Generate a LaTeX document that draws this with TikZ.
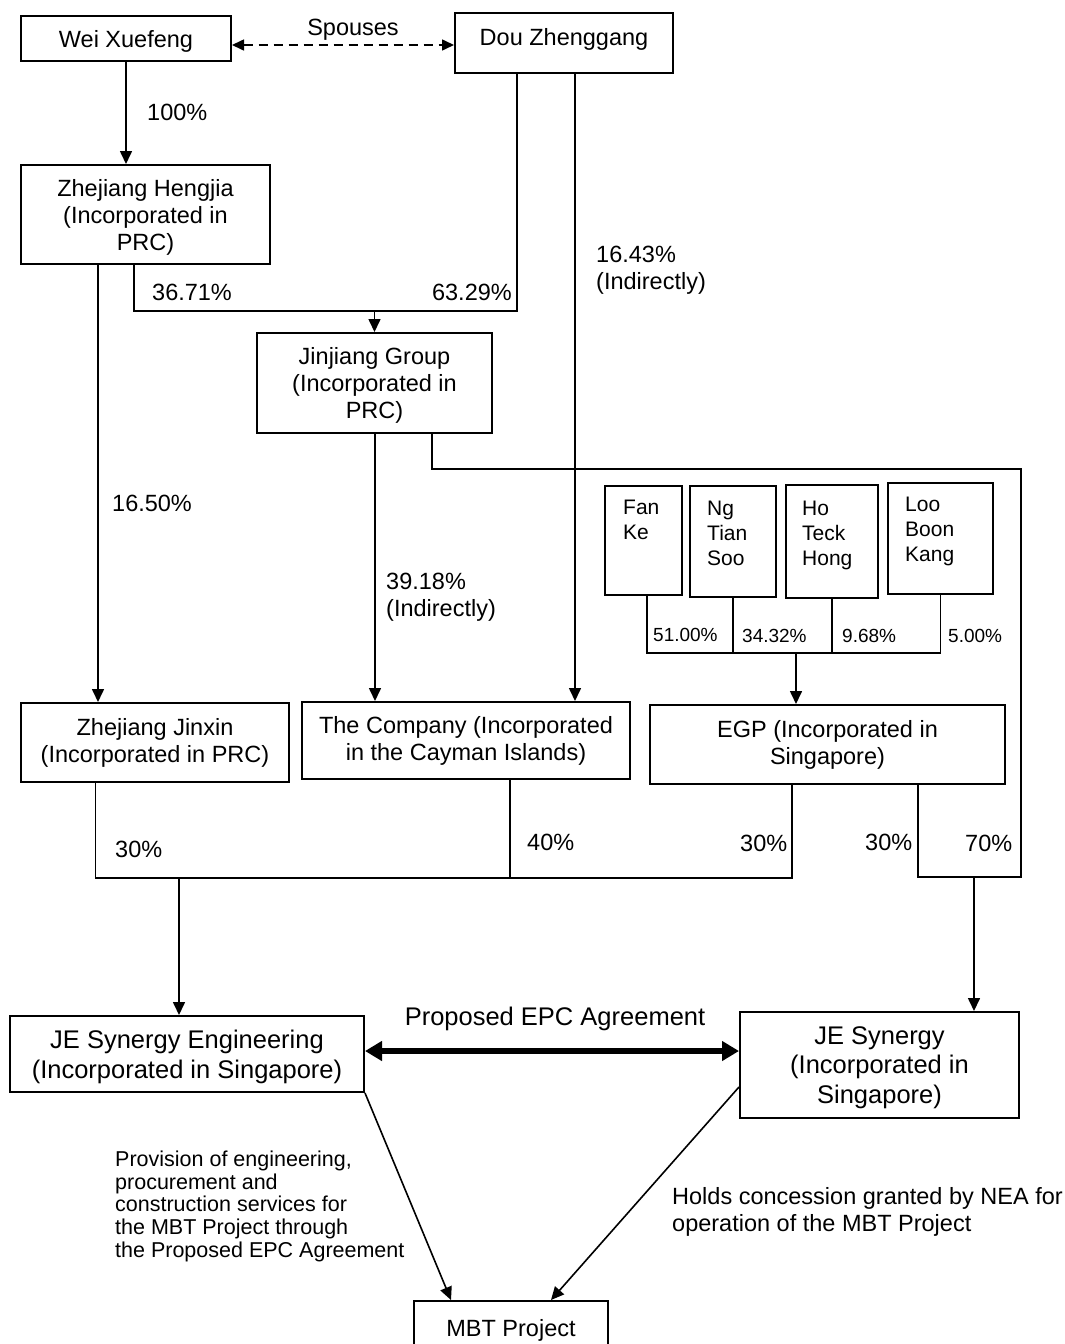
\documentclass[tikz,border=0pt]{standalone}
\usepackage{fontspec}
\setmainfont{Liberation Sans}
\usetikzlibrary{arrows.meta,calc}
\newcommand\fmain{\fontsize{23.5}{27}\selectfont}
\newcommand\fbig{\fontsize{25.5}{29.5}\selectfont}
\newcommand\fname{\fontsize{21}{24.8}\selectfont}
\newcommand\fpct{\fontsize{19}{22}\selectfont}
\newcommand\fnote{\fontsize{21.5}{22.6}\selectfont}
\begin{document}
\begin{tikzpicture}[x=1pt,y=-1pt,
  box/.style={draw, line width=2pt, align=center, inner sep=0pt, font=\fmain},
  bigbox/.style={box, font=\fbig},
  namebox/.style={draw, line width=2pt, inner sep=0pt},
  nametext/.style={align=left, inner sep=0pt, font=\fname, anchor=north west},
  lbl/.style={inner sep=0pt, font=\fmain},
  pct/.style={inner sep=0pt, font=\fpct, anchor=base west},
  conn/.style={line width=1.6pt},
  arr/.style={conn, -{Triangle[length=13pt,width=12pt]}},
  spouse/.style={line width=1.6pt, dash pattern=on 9pt off 6pt, {Triangle[length=12pt,width=11pt]}-{Triangle[length=12pt,width=11pt]}},
  epc/.style={line width=6pt, {Triangle[length=17pt,width=19pt]}-{Triangle[length=17pt,width=19pt]}}]
\useasboundingbox (0,0) rectangle (1065,1344);

% boxes
\node[box, minimum width=210pt, minimum height=45pt, text height=23pt] (wei) at (126,38.5) {Wei Xuefeng};
\node[box, minimum width=218pt, minimum height=60pt, text height=17pt, text depth=12pt] (dou) at (564,43) {Dou Zhenggang};
\node[box, minimum width=249pt, minimum height=99pt, text depth=0pt] (heng) at (145.5,214.5) {Zhejiang Hengjia\\(Incorporated in\\PRC)};
\node[box, minimum width=235pt, minimum height=100pt, text depth=0pt] (jinj) at (374.5,383) {Jinjiang Group\\(Incorporated in\\PRC)};
\node[box, minimum width=268pt, minimum height=79pt] (jinx) at (155,742.5) {Zhejiang Jinxin\\(Incorporated in PRC)};
\node[box, minimum width=328pt, minimum height=77pt] (comp) at (466,740.5) {The Company (Incorporated\\in the Cayman Islands)};
\node[box, minimum width=355pt, minimum height=79pt] (egp) at (827.5,744.5) {EGP (Incorporated in\\Singapore)};

\node[namebox, minimum width=77pt, minimum height=109pt] (fan) at (643.5,540.5) {};
\node[namebox, minimum width=86pt, minimum height=111pt] (ng) at (733,541.5) {};
\node[namebox, minimum width=92pt, minimum height=113pt] (ho) at (832,541.5) {};
\node[namebox, minimum width=105pt, minimum height=111pt] (loo) at (940.5,538.5) {};
\node[nametext] (fant) at (623,500) {Fan\\Ke};
\node[nametext] (ngt) at (707,501) {Ng\\Tian\\Soo};
\node[nametext] (hot) at (802,501) {Ho\\Teck\\Hong};
\node[nametext] (loot) at (905,497) {Loo\\Boon\\Kang};

\node[bigbox, minimum width=354pt, minimum height=76pt, text depth=0pt] (jese) at (187,1054) {JE Synergy Engineering\\(Incorporated in Singapore)};
\node[bigbox, minimum width=279pt, minimum height=106pt, text depth=0pt] (jes) at (879.5,1065) {JE Synergy\\(Incorporated in\\Singapore)};
\node[box, minimum width=194pt, minimum height=59pt] (mbt) at (511,1330.5) {MBT Project};

% helper levels
\coordinate (ysp) at (0,45);
\coordinate (yA) at (0,311);
\coordinate (yB) at (0,469);
\coordinate (yC) at (0,653);
\coordinate (yD) at (0,878);
\coordinate (yE) at (0,877);
\coordinate (yF) at (0,1051);
\coordinate (xR) at (1021,0);

% spouses
\draw[spouse] (wei.east |- ysp) -- (dou.west |- ysp);
% Wei -> Hengjia
\draw[arr] (wei.south) -- (wei.south |- heng.north);
% Hengjia -> Jinxin
\coordinate (h1) at ([xshift=78pt]heng.south west);
\draw[arr] (h1) -- (h1 |- jinx.north);
% Hengjia + Dou -> Jinjiang
\coordinate (h2) at ([xshift=114pt]heng.south west);
\coordinate (d1) at ([xshift=63pt]dou.south west);
\draw[conn] (h2) |- (d1 |- yA) -- (d1);
\draw[arr] (jinj.north |- yA) -- (jinj.north);
% Dou -> Company
\coordinate (d2) at ([xshift=121pt]dou.south west);
\draw[arr] (d2) -- (d2 |- comp.north);
% Jinjiang -> Company
\coordinate (j1) at ([xshift=119pt]jinj.south west);
\draw[arr] (j1) -- (j1 |- comp.north);
% Jinjiang -> JE Synergy (70%) with EGP (30%)
\coordinate (j2) at ([xshift=176pt]jinj.south west);
\coordinate (e2) at ([xshift=269pt]egp.south west);
\draw[conn] (j2) |- (xR |- yB) -- (xR |- yE) -| (e2);
\coordinate (s1) at ([xshift=235pt]jes.north west);
\draw[arr] (s1 |- yE) -- (s1);
% individuals -> EGP
\coordinate (f1) at ([xshift=3.5pt]fan.south);
\draw[conn] (f1) |- (loo.south |- yC) -- (loo.south);
\draw[conn] (ng.south) -- (ng.south |- yC);
\draw[conn] (ho.south) -- (ho.south |- yC);
\coordinate (e0) at ([xshift=147pt]egp.north west);
\draw[arr] (e0 |- yC) -- (e0);
% Jinxin, Company, EGP -> JE Synergy Engineering
\coordinate (x1) at ([xshift=75.5pt]jinx.south west);
\coordinate (c1) at ([xshift=209pt]comp.south west);
\coordinate (e1) at ([xshift=143pt]egp.south west);
\draw[conn] (x1) -- (x1 |- yD) -- (e1 |- yD) -- (e1);
\draw[conn] (c1) -- (c1 |- yD);
\coordinate (g1) at ([xshift=170pt]jese.north west);
\draw[arr] (g1 |- yD) -- (g1);
% EPC
\draw[epc] (jese.east |- yF) -- (jes.west |- yF);
% to MBT
\coordinate (s2) at (jes.west |- 0,1087);
\draw[arr] (jese.south east) -- ([xshift=38pt]mbt.north west);
\draw[arr] (s2) -- ([xshift=-58pt]mbt.north east);

% labels
\node[lbl, anchor=base] (lsp) at (353,35) {Spouses};
\node[lbl, anchor=base west] (l100) at (147,120) {100\%};
\node[lbl, anchor=base west] (l3671) at (152,300) {36.71\%};
\node[lbl, anchor=base east] (l6329) at (512,300) {63.29\%};
\node[lbl, anchor=north west, align=left] (l1643) at (596,246) {16.43\%\\(Indirectly)};
\node[lbl, anchor=base west] (l1650) at (112,511) {16.50\%};
\node[lbl, anchor=north west, align=left] (l3918) at (386,573) {39.18\%\\(Indirectly)};
\node[pct] (p51) at (653,641) {51.00\%};
\node[pct] (p34) at (742,642) {34.32\%};
\node[pct] (p96) at (842,642) {9.68\%};
\node[pct] (p5) at (948,642) {5.00\%};
\node[lbl, anchor=base west] (l30a) at (115,857) {30\%};
\node[lbl, anchor=base west] (l40) at (527,850) {40\%};
\node[lbl, anchor=base west] (l30b) at (740,851) {30\%};
\node[lbl, anchor=base west] (l30c) at (865,850) {30\%};
\node[lbl, anchor=base west] (l70) at (965,851) {70\%};
\node[lbl, font=\fbig, anchor=base] (lepc) at (555,1025) {Proposed EPC Agreement};
\node[lbl, font=\fnote, anchor=north west, align=left] (lprov) at (115,1151) {Provision of engineering,\\procurement and\\construction services for\\the MBT Project through\\the Proposed EPC Agreement};
\node[lbl, anchor=north west, align=left] (lholds) at (672,1187) {Holds concession granted by NEA for\\operation of the MBT Project};
\end{tikzpicture}
\end{document}
